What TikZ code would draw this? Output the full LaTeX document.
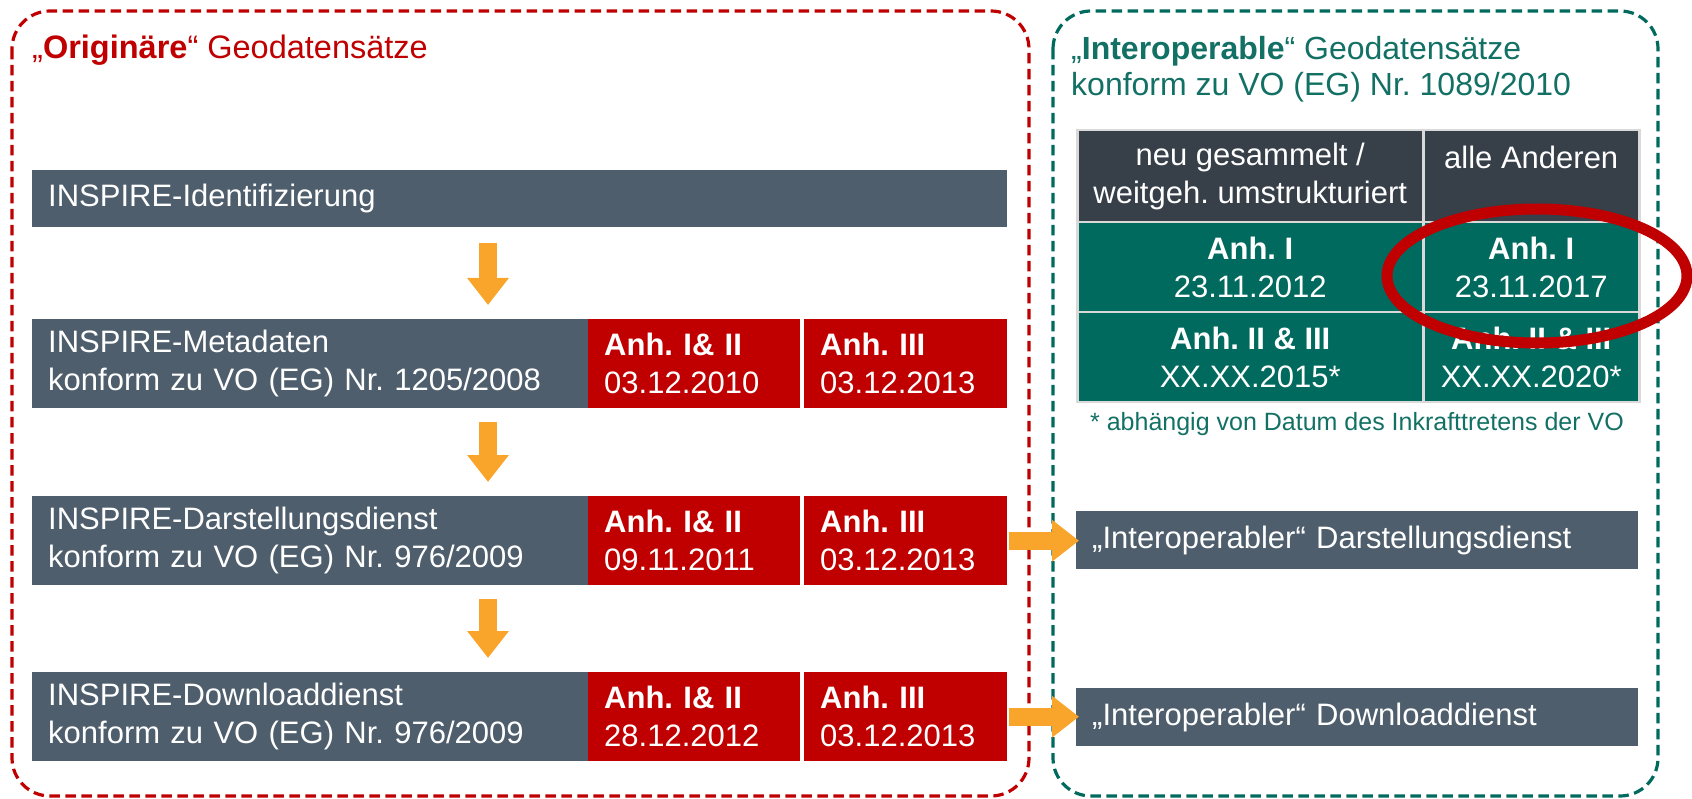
\documentclass[tikz,border=0pt]{standalone}
\usepackage{fontspec}
\setmainfont{Liberation Sans}
\usetikzlibrary{arrows.meta}
\frenchspacing
\definecolor{slate}{HTML}{4E5E6C}
\definecolor{dred}{HTML}{C00000}
\definecolor{tealbg}{HTML}{006A5E}
\definecolor{hdr}{HTML}{373F48}
\definecolor{orng}{HTML}{F9A52B}
\definecolor{tealtxt}{HTML}{137064}
\tikzset{
  bigfont/.style={font=\fontsize{31}{38}\selectfont},
  graybar/.style={bigfont, fill=slate, text=white, anchor=north west, inner xsep=16pt, inner ysep=0pt, align=left, minimum height=#1},
  redcell/.style={bigfont, fill=dred, text=white, anchor=north west, inner xsep=16pt, inner ysep=0pt, align=left, minimum height=89pt},
  tcell/.style={bigfont, anchor=north west, inner sep=0pt, align=center, draw=white!85!black, line width=2.5pt, text=white},
  hcell/.style={tcell, fill=hdr},
  gcell/.style={tcell, fill=tealbg},
  blockarrow/.style={draw=orng, line width=18pt, -{Triangle[length=27pt,width=40pt]}},
  boxline/.style={line width=3.2pt, dash pattern=on 10.5pt off 5.5pt, rounded corners=38pt},
}
\begin{document}
\begin{tikzpicture}[x=1pt,y=-1pt]
\useasboundingbox (0,0) rectangle (1692,799);
% frames
\draw[boxline, draw=dred] (12,11) rectangle (1029,796);
\draw[boxline, draw=tealbg] (1053,11) rectangle (1658,796);
% titles
\node[anchor=base west, inner sep=0pt, text=dred, font=\fontsize{32.5}{38}\selectfont] (tleft) at (32,59) {„\textbf{Originäre}“ Geodatensätze};
\node[anchor=base west, inner sep=0pt, text=tealtxt, font=\fontsize{32}{38}\selectfont] (tright1) at (1071,60) {„\textbf{Interoperable}“ Geodatensätze};
\node[anchor=base west, inner sep=0pt, text=tealtxt, font=\fontsize{32}{38}\selectfont] (tright2) at (1071,96) {konform zu VO (EG) Nr. 1089/2010};
% left column
\node[graybar=57pt, text width=943pt] (ident) at (32,170) {INSPIRE-Identifizierung};
\node[graybar=89pt, text width=524pt] (meta) at (32,319) {INSPIRE-Metadaten\\konform zu VO (EG) Nr. 1205/2008};
\node[redcell, text width=180pt] (metaA) at (588,319) {\textbf{Anh. I\& II}\\03.12.2010};
\node[redcell, text width=171pt] (metaB) at (804,319) {\textbf{Anh. III}\\03.12.2013};
\node[graybar=89pt, text width=524pt] (darst) at (32,496) {INSPIRE-Darstellungsdienst\\konform zu VO (EG) Nr. 976/2009};
\node[redcell, text width=180pt] (darstA) at (588,496) {\textbf{Anh. I\& II}\\09.11.2011};
\node[redcell, text width=171pt] (darstB) at (804,496) {\textbf{Anh. III}\\03.12.2013};
\node[graybar=89pt, text width=524pt] (down) at (32,672) {INSPIRE-Downloaddienst\\konform zu VO (EG) Nr. 976/2009};
\node[redcell, text width=180pt] (downA) at (588,672) {\textbf{Anh. I\& II}\\28.12.2012};
\node[redcell, text width=171pt] (downB) at (804,672) {\textbf{Anh. III}\\03.12.2013};
% table
\node[hcell, minimum width=346pt, minimum height=92pt] (hA) at (1076,129) {neu gesammelt /\\weitgeh. umstrukturiert};
\node[hcell, minimum width=216pt, minimum height=92pt] (hB) at (1422,129) {alle Anderen\\\phantom{X}};
\node[gcell, minimum width=346pt, minimum height=90pt] (g1A) at (1076,221) {\textbf{Anh. I}\\23.11.2012};
\node[gcell, minimum width=216pt, minimum height=90pt] (g1B) at (1422,221) {\textbf{Anh. I}\\23.11.2017};
\node[gcell, minimum width=346pt, minimum height=90pt] (g2A) at (1076,311) {\textbf{Anh. II \& III}\\XX.XX.2015*};
\node[gcell, minimum width=216pt, minimum height=90pt] (g2B) at (1422,311) {\textbf{Anh. II \& III}\\XX.XX.2020*};
\node[text=tealtxt, font=\fontsize{25}{30}\selectfont, inner sep=0pt] (foot) at (1357,424) {* abhängig von Datum des Inkrafttretens der VO};
% right boxes
\node[graybar=58pt, text width=530pt] (idarst) at (1076,511) {„Interoperabler“ Darstellungsdienst};
\node[graybar=58pt, text width=530pt] (idown) at (1076,688) {„Interoperabler“ Downloaddienst};
% arrows
\coordinate (ax) at (488,0);
\draw[blockarrow, shorten <=16pt, shorten >=14pt] (ident.south -| ax) -- (meta.north -| ax);
\draw[blockarrow, shorten <=14pt, shorten >=14pt] (meta.south -| ax) -- (darst.north -| ax);
\draw[blockarrow, shorten <=14pt, shorten >=14pt] (darst.south -| ax) -- (down.north -| ax);
\draw[blockarrow, shorten <=2pt, shorten >=-3pt] (darstB.east) -- (darstB.east -| idarst.west);
\draw[blockarrow, shorten <=2pt, shorten >=-3pt] (downB.east) -- (downB.east -| idown.west);
% highlight ellipse
\draw[dred, line width=11pt] (1537,276) ellipse [x radius=150, y radius=67];
\end{tikzpicture}
\end{document}
